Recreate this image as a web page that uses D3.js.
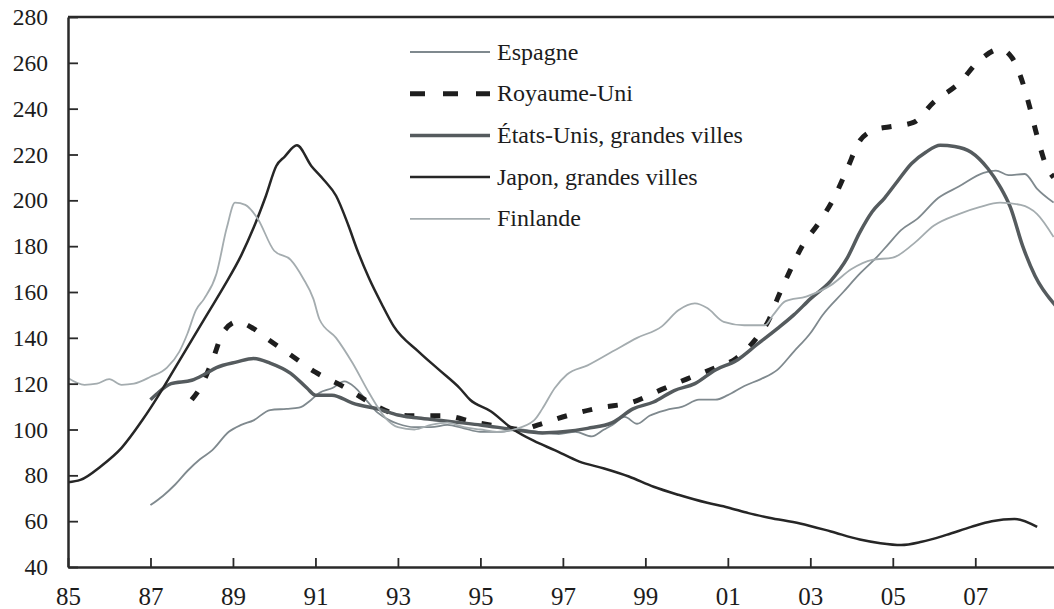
<!DOCTYPE html>
<html>
<head>
<meta charset="utf-8">
<script src="https://cdn.jsdelivr.net/npm/d3@7"></script>
<style>
  body { margin: 0; background: #fff; }
  text { font-family: "Liberation Serif", "DejaVu Serif", serif; fill: #1c1c1c; }
</style>
</head>
<body>
<div id="chart"></div>
<script>
// tick values
var xTicks = [1985, 1987, 1989, 1991, 1993, 1995, 1997, 1999, 2001, 2003, 2005, 2007]
var yTicks = [40, 60, 80, 100, 120, 140, 160, 180, 200, 220, 240, 260, 280]

// series: [year, index]
var espagne = [[1987.0,67],[1987.3,71],[1987.6,76],[1987.9,82],[1988.2,87],[1988.5,91],[1988.9,99],[1989.2,102],
  [1989.5,104],[1989.9,108.5],[1990.3,109],[1990.6,109.5],[1990.9,113],[1991.1,116],[1991.4,118],[1991.7,121],
  [1991.95,118.5],[1992.2,113.5],[1992.5,107.5],[1992.8,104],[1993.0,102.5],[1993.4,101],[1993.8,101],[1994.2,102],
  [1994.6,100.5],[1995.0,99],[1995.5,99],[1995.9,100],[1996.4,99],[1996.9,98],[1997.3,99],[1997.7,97],[1998.0,100],
  [1998.2,102],[1998.5,105.5],[1998.8,102.5],[1999.1,106],[1999.5,108.5],[1999.9,110],[2000.3,113],[2000.7,113],
  [2001.0,115],[2001.4,119],[2001.8,122],[2002.2,126],[2002.6,134],[2003.0,142],[2003.3,150],[2003.8,160],
  [2004.2,168],[2004.6,175],[2004.9,181],[2005.2,187],[2005.6,192],[2006.1,201],[2006.6,206],[2007.2,212],
  [2007.5,213],[2007.8,211],[2008.2,211.5],[2008.5,205],[2008.9,199]]

var royaumeUni = [[1988.0,113],[1988.2,118],[1988.5,130],[1988.75,142],[1989.1,147],[1989.5,144],[1989.8,140],
  [1990.4,132.5],[1991.0,125],[1991.7,118.5],[1992.3,112],[1992.9,107],[1993.3,106],[1994.1,106],[1994.9,103],
  [1995.6,101],[1996.0,100],[1996.4,102],[1997.1,106],[1997.9,109.5],[1998.7,112],[1999.4,117.5],[2000.0,122],
  [2000.7,127],[2001.2,131],[2001.7,140],[2002.0,148],[2002.2,157],[2002.5,169],[2002.8,180],[2003.2,190],
  [2003.6,202],[2003.9,214],[2004.2,226],[2004.6,231],[2004.9,232],[2005.5,234],[2006.0,243],[2006.6,251],
  [2007.1,261],[2007.6,266],[2007.9,262],[2008.1,254],[2008.3,242],[2008.5,228],[2008.7,216],[2008.9,210]]

var etatsUnis = [[1987.0,113],[1987.15,115.5],[1987.5,120],[1988.0,121.5],[1988.3,124],[1988.6,127],[1989.1,129.5],
  [1989.5,131],[1989.9,129],[1990.4,124.5],[1990.8,118],[1991.0,115],[1991.4,115],[1991.9,111.5],[1992.6,108.5],
  [1993.0,106.3],[1993.5,105],[1994.0,104],[1994.5,103],[1995.0,102],[1995.8,100],[1996.5,98.5],[1997.0,99],
  [1997.6,100.5],[1998.2,103],[1998.7,109],[1999.2,112],[1999.7,117],[2000.2,120],[2000.7,126],[2001.2,130],
  [2001.7,137],[2002.2,144],[2002.6,150],[2003.0,157],[2003.5,165],[2003.9,175],[2004.2,186],[2004.5,195],
  [2004.8,201],[2005.1,208],[2005.45,216],[2005.8,221],[2006.15,224],[2006.5,223.5],[2006.9,221],[2007.3,214],
  [2007.6,206],[2007.85,197],[2008.15,180],[2008.45,167],[2008.95,154]]

var japon = [[1985.0,77],[1985.3,78],[1985.8,84],[1986.3,92],[1986.8,104],[1987.2,115],[1987.6,127],[1988.0,139],
  [1988.4,151],[1988.8,163],[1989.2,176],[1989.5,188],[1989.8,202],[1990.05,215],[1990.25,219],[1990.55,224],
  [1990.9,215],[1991.2,209],[1991.5,202],[1991.8,189],[1992.0,179],[1992.3,166],[1992.6,155],
  [1992.9,145],[1993.5,134],[1994.0,126],[1994.5,118],[1994.75,113],[1995.25,108],[1995.8,100],[1996.3,95],
  [1996.8,91],[1997.4,86],[1998.0,83],[1998.6,79.5],[1999.2,75],[1999.8,71.5],[2000.5,68],[2001.0,66],
  [2001.5,63.5],[2002.0,61.5],[2002.75,59],[2003.5,55.5],[2004.2,52],[2004.7,50.4],[2005.2,49.6],[2005.7,51],
  [2006.3,54],[2006.9,57.5],[2007.4,60],[2007.95,61],[2008.5,57.5]]

var finlande = [[1985.0,122.5],[1985.4,119.5],[1985.7,120],[1986.0,122],[1986.3,119.5],[1986.6,120],[1987.0,123],
  [1987.4,127],[1987.7,134],[1987.9,142],[1988.1,152],[1988.3,157],[1988.6,168],[1988.85,188],[1989.05,199],
  [1989.3,198],[1989.6,192],[1990.0,178],[1990.4,174],[1990.7,166],[1990.95,157],[1991.1,148],[1991.5,140],
  [1991.9,129],[1992.3,116],[1992.7,105],[1993.0,101],[1993.4,100],[1993.8,102],[1994.2,103],[1994.6,101],
  [1995.0,100],[1995.4,99],[1995.8,100],[1996.3,104],[1996.5,109],[1996.8,118],[1997.1,124],[1997.6,128],
  [1998.2,134],[1998.8,140],[1999.4,145],[1999.8,152],[2000.2,155],[2000.5,153],[2000.9,147],[2001.4,145.5],
  [2001.9,145.5],[2002.1,150],[2002.4,156],[2002.9,158],[2003.5,163],[2004.0,170],[2004.5,174],[2005.0,175],
  [2005.5,181],[2006.0,189],[2006.6,194],[2007.1,197],[2007.6,199],[2008.1,198],[2008.5,194],[2008.9,184]]

var names = ["Espagne", "Royaume-Uni", "États-Unis, grandes villes", "Japon, grandes villes", "Finlande"]

// styles
var styles = {
  "Espagne": { color: "#7f898e", width: 1.8, dash: null, legDash: null },
  "Royaume-Uni": { color: "#1e1e1e", width: 5, dash: "10,16", legDash: "15,18" },
  "États-Unis, grandes villes": { color: "#555b5e", width: 3.5, dash: null, legDash: null },
  "Japon, grandes villes": { color: "#262626", width: 2.5, dash: null, legDash: null },
  "Finlande": { color: "#a4acaf", width: 1.8, dash: null, legDash: null }
}
var series = [espagne, royaumeUni, etatsUnis, japon, finlande]

var width = 1054, height = 609
var marginLeft = 68, marginTop = 17, axisBottomY = 567

var svg = d3.select("#chart")
  .append("svg")
  .attr("width", width)
  .attr("height", height)

var x = d3.scaleLinear()
  .domain([1985, 2009])
  .range([marginLeft, marginLeft + 24 * 41.24])

var y = d3.scaleLinear()
  .domain([40, 280])
  .range([axisBottomY, marginTop])

svg.append("clipPath").attr("id", "plot")
  .append("rect").attr("x", marginLeft).attr("y", 0).attr("width", width - marginLeft).attr("height", axisBottomY)

// lines
var line = d3.line()
  .x(function (d) { return x(d[0]) })
  .y(function (d) { return y(d[1]) })
  .curve(d3.curveMonotoneX)

svg.append("g")
  .attr("clip-path", "url(#plot)")
  .selectAll("path")
  .data(series)
  .enter().append("path")
  .attr("d", line)
  .attr("fill", "none")
  .attr("stroke", function (d, i) { return styles[names[i]].color })
  .attr("stroke-width", function (d, i) { return styles[names[i]].width })
  .attr("stroke-dasharray", function (d, i) { return styles[names[i]].dash })
  .attr("stroke-linejoin", "round")

// top border
svg.append("line")
  .attr("x1", marginLeft).attr("x2", width)
  .attr("y1", marginTop).attr("y2", marginTop)
  .attr("stroke", "#2a2a2a").attr("stroke-width", 2.5)

// y axis
var yAxis = svg.append("g")
  .attr("transform", "translate(" + marginLeft + ",0)")
  .call(d3.axisLeft(y).tickValues(yTicks).tickSize(-10).tickPadding(20).tickSizeOuter(0))
yAxis.select(".domain").attr("stroke", "#2a2a2a").attr("stroke-width", 2.5)
yAxis.selectAll(".tick line").attr("stroke", "#2a2a2a").attr("stroke-width", 1.8)
yAxis.selectAll("text").style("font-size", "23.5px").attr("fill", "#1c1c1c")

// x axis
var xAxis = svg.append("g")
  .attr("transform", "translate(0," + axisBottomY + ")")
  .call(d3.axisBottom(x).tickValues(xTicks).tickSize(-9).tickPadding(20).tickSizeOuter(0)
    .tickFormat(function (d) { return String(d % 100).padStart(2, "0") }))
xAxis.select(".domain").attr("stroke", "#2a2a2a").attr("stroke-width", 2.5)
xAxis.selectAll(".tick line").attr("stroke", "#2a2a2a").attr("stroke-width", 1.8)
xAxis.selectAll("text").style("font-size", "25px").attr("fill", "#1c1c1c")

// legend
var legend = svg.append("g")
  .selectAll("g")
  .data(names)
  .enter().append("g")
  .attr("transform", function (d, i) { return "translate(410," + (52 + i * 41.7) + ")" })

legend.append("line")
  .attr("x1", 0).attr("x2", 80)
  .attr("stroke", function (d) { return styles[d].color })
  .attr("stroke-width", function (d) { return styles[d].width })
  .attr("stroke-dasharray", function (d) { return styles[d].legDash })

legend.append("text")
  .attr("x", 87)
  .attr("y", 0)
  .attr("dy", "0.32em")
  .style("font-size", "24px")
  .text(function (d) { return d })
</script>
</body>
</html>
